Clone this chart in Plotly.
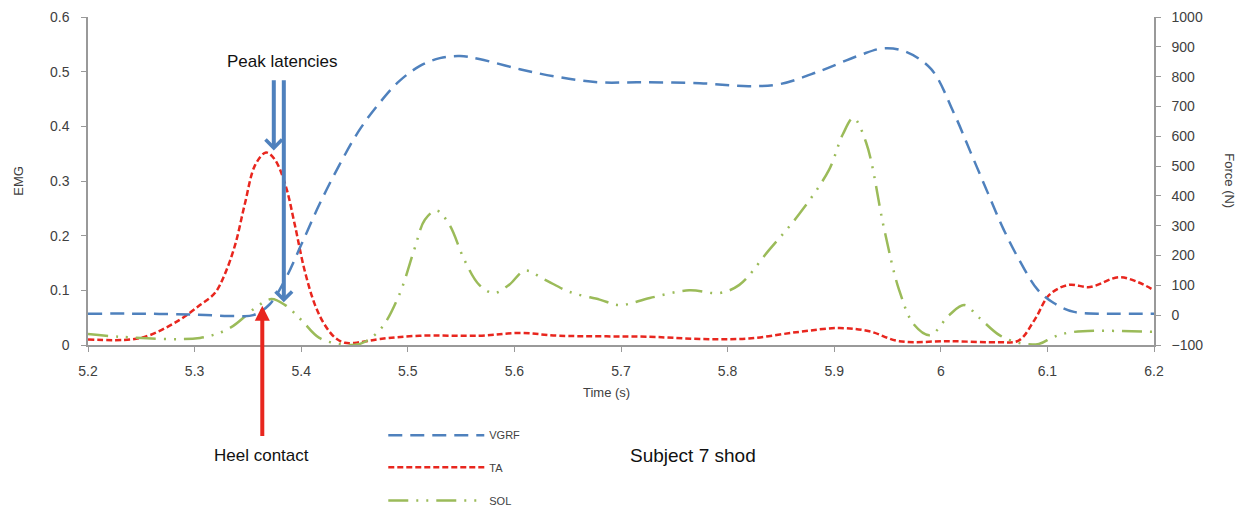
import plotly.graph_objects as go

# ---- data ----
vgrf_t = [5.20, 5.25, 5.30, 5.34, 5.355, 5.37, 5.385, 5.40, 5.417, 5.436, 5.455, 5.474,
          5.492, 5.511, 5.53, 5.549, 5.567, 5.605, 5.642, 5.68, 5.717, 5.774, 5.82, 5.849,
          5.886, 5.924, 5.946, 5.966, 5.991, 6.012, 6.028, 6.044, 6.059, 6.075, 6.091,
          6.106, 6.125, 6.16, 6.20]
vgrf_f = [5, 5, 2, -3, 0, 35, 120, 236, 371, 505, 623, 714,
          785, 835, 862, 869, 859, 825, 798, 781, 781, 778, 768, 775,
          818, 872, 895, 885, 825, 680, 546, 411, 287, 176, 85,
          41, 11, 5, 5]

ta_t = [5.20, 5.24, 5.258, 5.286, 5.305, 5.319, 5.328, 5.338, 5.347, 5.357, 5.367, 5.375,
        5.385, 5.394, 5.403, 5.413, 5.422, 5.432, 5.441, 5.455, 5.474, 5.511, 5.567, 5.605,
        5.642, 5.727, 5.774, 5.82, 5.867, 5.905, 5.933, 5.961, 6.008, 6.055, 6.073, 6.088,
        6.102, 6.12, 6.14, 6.167, 6.185, 6.20]
ta_v = [0.010, 0.010, 0.018, 0.046, 0.073, 0.095, 0.128, 0.183, 0.257, 0.330, 0.352, 0.340,
        0.294, 0.220, 0.138, 0.073, 0.037, 0.013, 0.004, 0.005, 0.011, 0.017, 0.017, 0.022,
        0.017, 0.015, 0.011, 0.012, 0.024, 0.031, 0.025, 0.007, 0.007, 0.005, 0.008, 0.046,
        0.092, 0.110, 0.106, 0.124, 0.115, 0.100]

sol_t = [5.20, 5.23, 5.305, 5.333, 5.357, 5.372, 5.385, 5.40, 5.417, 5.436, 5.455, 5.474,
         5.492, 5.506, 5.516, 5.527, 5.539, 5.553, 5.567, 5.581, 5.595, 5.61, 5.628, 5.652,
         5.68, 5.699, 5.727, 5.764, 5.792, 5.811, 5.839, 5.867, 5.895, 5.908, 5.918, 5.93,
         5.947, 5.961, 5.975, 5.99, 6.008, 6.022, 6.036, 6.055, 6.073, 6.092, 6.106, 6.125, 6.20]
sol_v = [0.020, 0.015, 0.013, 0.031, 0.068, 0.084, 0.073, 0.046, 0.013, 0.002, 0.002, 0.028,
         0.092, 0.174, 0.229, 0.246, 0.220, 0.156, 0.110, 0.095, 0.110, 0.136, 0.120, 0.097,
         0.083, 0.073, 0.086, 0.100, 0.095, 0.110, 0.174, 0.239, 0.320, 0.385, 0.415, 0.370,
         0.211, 0.100, 0.037, 0.018, 0.055, 0.073, 0.050, 0.018, 0.004, 0.002, 0.015, 0.024, 0.024]

x_ticks = [5.2, 5.3, 5.4, 5.5, 5.6, 5.7, 5.8, 5.9, 6.0, 6.1, 6.2]
x_labels = ["5.2", "5.3", "5.4", "5.5", "5.6", "5.7", "5.8", "5.9", "6", "6.1", "6.2"]
emg_ticks = [0, 0.1, 0.2, 0.3, 0.4, 0.5, 0.6]
emg_labels = ["0", "0.1", "0.2", "0.3", "0.4", "0.5", "0.6"]
force_ticks = [-100, 0, 100, 200, 300, 400, 500, 600, 700, 800, 900, 1000]

BLUE = "#4F81BD"
RED = "#E8261E"
GREEN = "#9BBB59"
FONT = "Liberation Sans"
TICKC = "#404040"
AXC = "#999999"

fig = go.Figure()
fig.add_trace(go.Scatter(x=vgrf_t, y=vgrf_f, name="VGRF", yaxis="y2", mode="lines",
                         line=dict(color=BLUE, width=2.5, dash="14px,8px", shape="spline"),
                         legend="legend"))
fig.add_trace(go.Scatter(x=ta_t, y=ta_v, name="TA", mode="lines",
                         line=dict(color=RED, width=2.5, dash="6px,3px", shape="spline"),
                         legend="legend2"))
fig.add_trace(go.Scatter(x=sol_t, y=sol_v, name="SOL", mode="lines",
                         line=dict(color=GREEN, width=2.5, dash="20px,8px,2px,8px,2px,8px", shape="spline"),
                         legend="legend3"))

axis_common = dict(showgrid=False, zeroline=False, showline=True, linecolor=AXC, linewidth=1.5,
                   ticks="outside", ticklen=5, tickcolor=AXC, automargin=False,
                   tickfont=dict(family=FONT, size=14, color=TICKC))

leg_common = dict(xanchor="left", yanchor="middle", itemwidth=96,
                  font=dict(family=FONT, size=11, color="#404040"), bgcolor="rgba(0,0,0,0)")

# the page body adds an 8px margin, so the figure is 8px smaller than the window
fig.update_layout(
    width=1237, height=504,
    margin=dict(l=80, r=91, t=9, b=167, autoexpand=False),
    paper_bgcolor="white", plot_bgcolor="white",
    font=dict(family=FONT, color="#000000"),
    xaxis=dict(range=[5.2, 6.2], tickvals=x_ticks, ticktext=x_labels,
               ticklabelstandoff=7, **axis_common),
    yaxis=dict(range=[0, 0.6], tickvals=emg_ticks, ticktext=emg_labels,
               ticklabelstandoff=9, **axis_common),
    yaxis2=dict(range=[-100, 1000], tickvals=force_ticks, overlaying="y", side="right",
                ticklabelstandoff=8, **axis_common),
    legend=dict(x=0.277, y=-0.275, **leg_common),
    legend2=dict(x=0.277, y=-0.373, **leg_common),
    legend3=dict(x=0.277, y=-0.474, **leg_common),
    showlegend=True,
)

ann = []
# axis titles
ann.append(dict(text="EMG", xref="paper", yref="paper", x=-0.066, y=0.5, showarrow=False,
                xanchor="center", yanchor="middle",
                textangle=-90, font=dict(family=FONT, size=13, color=TICKC)))
ann.append(dict(text="Force (N)", xref="paper", yref="paper", x=1.071, y=0.5, showarrow=False,
                xanchor="center", yanchor="middle",
                textangle=90, font=dict(family=FONT, size=13, color=TICKC)))
ann.append(dict(text="Time (s)", xref="paper", yref="paper", x=0.486, y=-0.144, showarrow=False,
                xanchor="center", yanchor="middle",
                font=dict(family=FONT, size=13, color=TICKC)))
# text annotations
ann.append(dict(text="Peak latencies", xref="x", yref="paper", x=5.3828, y=0.863, showarrow=False,
                xanchor="center", yanchor="middle",
                font=dict(family=FONT, size=17, color="#111111")))
ann.append(dict(text="Heel contact", xref="x", yref="paper", x=5.363, y=-0.336, showarrow=False,
                xanchor="center", yanchor="middle",
                font=dict(family=FONT, size=17, color="#111111")))
ann.append(dict(text="Subject 7 shod", xref="x", yref="paper", x=5.768, y=-0.336, showarrow=False,
                xanchor="center", yanchor="middle",
                font=dict(family=FONT, size=19, color="#111111")))
# arrows
ann.append(dict(x=5.3743, y=0.356, ax=5.3743, ay=0.487, xref="x", yref="y", axref="x", ayref="y",
                text="", showarrow=True, arrowhead=4, arrowsize=0.8, arrowwidth=4, arrowcolor=BLUE))
ann.append(dict(x=5.3837, y=0.078, ax=5.3837, ay=0.487, xref="x", yref="y", axref="x", ayref="y",
                text="", showarrow=True, arrowhead=4, arrowsize=0.8, arrowwidth=4, arrowcolor=BLUE))
ann.append(dict(x=5.3635, y=0.072, ax=5.3635, ay=-0.169, xref="x", yref="y", axref="x", ayref="y",
                text="", showarrow=True, arrowhead=2, arrowsize=0.75, arrowwidth=4, arrowcolor=RED))
fig.update_layout(annotations=ann)

fig.write_html("out.html")
